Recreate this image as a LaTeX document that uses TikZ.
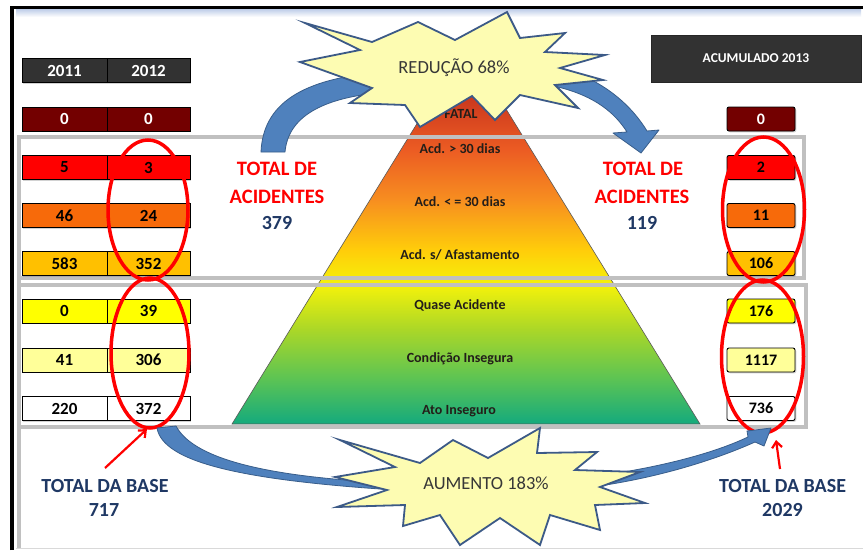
\documentclass[tikz,border=0pt]{standalone}
\usepackage{fontspec}
\setmainfont{Carlito}
\usetikzlibrary{shapes.geometric,shadows,arrows.meta}

\definecolor{cellred}{RGB}{255,0,0}
\definecolor{cellorange}{RGB}{247,106,10}
\definecolor{cellamber}{RGB}{255,192,0}
\definecolor{cellyellow}{RGB}{255,255,0}
\definecolor{celllight}{RGB}{255,255,153}
\definecolor{cellmaroon}{RGB}{115,0,0}
\definecolor{headgrey}{RGB}{50,50,50}
\definecolor{framegrey}{RGB}{192,192,192}
\definecolor{arrowblue}{RGB}{79,129,189}
\definecolor{arrowedge}{RGB}{56,93,138}
\definecolor{starfill}{RGB}{253,252,178}
\definecolor{staredge}{RGB}{60,90,135}
\definecolor{burstink}{RGB}{55,55,55}
\definecolor{navytext}{RGB}{31,56,100}
\definecolor{titlered}{RGB}{255,0,0}
\definecolor{ringred}{RGB}{255,0,0}
\definecolor{pyrtext}{RGB}{35,30,25}
\definecolor{stripblue}{RGB}{190,205,232}

\definecolor{pA}{RGB}{185,45,35}
\definecolor{pB}{RGB}{205,58,30}
\definecolor{pC}{RGB}{236,92,35}
\definecolor{pD}{RGB}{247,142,32}
\definecolor{pE}{RGB}{255,205,10}
\definecolor{pF}{RGB}{245,242,10}
\definecolor{pG}{RGB}{170,215,40}
\definecolor{pH}{RGB}{90,195,85}
\definecolor{pI}{RGB}{20,170,125}

\pgfdeclareverticalshading{pyrshade}{100bp}{color(0bp)=(pI); color(25bp)=(pI); color(30.8bp)=(pH); color(37.4bp)=(pG); color(43.3bp)=(pF); color(47.9bp)=(pE); color(54.5bp)=(pD); color(61bp)=(pC); color(67.6bp)=(pB); color(75bp)=(pA); color(100bp)=(pA)}

\tikzset{
  cellbox/.style={draw=black, line width=0.9pt, minimum height=24pt, inner sep=0pt, text=black,
    font=\fontsize{17}{17}\selectfont\bfseries,
    drop shadow={shadow xshift=1.3pt, shadow yshift=-1.3pt, opacity=0.35}},
  leftcell/.style={cellbox, minimum width=85pt},
  midcell/.style={cellbox, minimum width=83pt},
  rightcell/.style={cellbox, minimum width=68pt, rounded corners=2pt, font=\fontsize{16}{16}\selectfont\bfseries},
  headcell/.style={fill=headgrey, text=white},
  pyrlabel/.style={font=\fontsize{14}{14}\selectfont\bfseries, text=pyrtext, inner sep=0pt, text height=9pt, text depth=0pt},
  framebox/.style={draw=framegrey, line width=4pt},
  bluearrow/.style={fill=arrowblue, draw=arrowedge, line width=0.8pt, line join=round},
  burst/.style={fill=starfill, draw=staredge, line width=1.8pt, line join=miter, miter limit=12},
  bursttext/.style={font=\fontsize{18.5}{18.5}\selectfont, text=burstink, inner sep=0pt, text height=12pt, text depth=0pt},
  redtitle/.style={font=\fontsize{20.5}{20.5}\selectfont\bfseries, text=titlered, inner sep=0pt, text height=13pt, text depth=0pt},
  navytitle/.style={font=\fontsize{20}{20}\selectfont\bfseries, text=navytext, inner sep=0pt, text height=13pt, text depth=0pt},
  redring/.style={ellipse, draw=ringred, line width=3.5pt, inner sep=0pt},
  redpointer/.style={draw=ringred, line width=2.2pt, -{Straight Barb[length=6pt,width=10pt]}}
}

\begin{document}
\begin{tikzpicture}[x=1pt,y=-1pt]
\useasboundingbox (0,0) rectangle (863,550);
\fill[white] (0,0) rectangle (863,550);

% top strip and outer frame
\shade[top color=stripblue, bottom color=white] (16,9) rectangle (861,17);
\draw[black, line width=3.5pt, line join=miter] (12,550) -- (12,7.5) -- (863,7.5);
\draw[black!15, line width=1pt] (16,548) -- (863,548);

% pyramid
\shadedraw[shading=pyrshade, draw=black!65, line width=0.6pt] (232,424) -- (466,44) -- (700,424) -- cycle;
\node[pyrlabel] (lvl0) at (461,114) {FATAL};
\node[pyrlabel] (lvl1) at (460,148.5) {Acd. > 30 dias};
\node[pyrlabel] (lvl2) at (460,202) {Acd. < = 30 dias};
\node[pyrlabel] (lvl3) at (460,255) {Acd. s/ Afastamento};
\node[pyrlabel] (lvl4) at (460,305) {Quase Acidente};
\node[pyrlabel] (lvl5) at (460,358) {Condição Insegura};
\node[pyrlabel] (lvl6) at (459,410) {Ato Inseguro};

% grey group frames
\draw[framegrey, line width=3.5pt] (19,135) -- (19,548);
\draw[framebox] (19,137) -- (804,137) -- (804,278) -- (19,278);
\draw[framebox] (19,285) -- (806,285) -- (806,427) -- (19,427);

% left table
\node[leftcell, headcell] (y11) at (64.5,70.5) {2011};
\node[midcell, headcell] (y12) at (148.5,70.5) {2012};
\node[leftcell, fill=cellmaroon, text=white] (a11) at (64.5,119) {0};
\node[midcell, fill=cellmaroon, text=white] (a12) at (148.5,119) {0};
\node[leftcell, fill=cellred] (b11) at (64.5,167.5) {5};
\node[midcell, fill=cellred] (b12) at (148.5,167.5) {3};
\node[leftcell, fill=cellorange] (c11) at (64.5,215.5) {46};
\node[midcell, fill=cellorange] (c12) at (148.5,215.5) {24};
\node[leftcell, fill=cellamber] (d11) at (64.5,263.5) {583};
\node[midcell, fill=cellamber] (d12) at (148.5,263.5) {352};
\node[leftcell, fill=cellyellow] (e11) at (64.5,311) {0};
\node[midcell, fill=cellyellow] (e12) at (148.5,311) {39};
\node[leftcell, fill=celllight] (f11) at (64.5,360) {41};
\node[midcell, fill=celllight] (f12) at (148.5,360) {306};
\node[leftcell, fill=white] (g11) at (64.5,408.5) {220};
\node[midcell, fill=white] (g12) at (148.5,408.5) {372};

% right table
\node[draw=black!85, fill=headgrey, minimum width=210pt, minimum height=47pt, inner sep=0pt,
      text=white, font=\fontsize{13.5}{13.5}\selectfont\bfseries] (acc) at (756,58.5) {ACUMULADO 2013};
\node[rightcell, fill=cellmaroon, text=white] (a13) at (761,119) {0};
\node[rightcell, fill=cellred] (b13) at (761,167.5) {2};
\node[rightcell, fill=cellorange] (c13) at (761,215.5) {11};
\node[rightcell, fill=cellamber] (d13) at (761,263.5) {106};
\node[rightcell, fill=cellyellow] (e13) at (761,311) {176};
\node[rightcell, fill=celllight] (f13) at (761,360) {1117};
\node[rightcell, fill=white] (g13) at (761,408.5) {736};

% red rings
\node[redring, minimum width=80pt, minimum height=140pt] (ringLA) at (148,210) {};
\node[redring, minimum width=78pt, minimum height=150pt] (ringLB) at (150,353) {};
\node[redring, minimum width=82pt, minimum height=145pt] (ringRA) at (763.5,209.5) {};
\node[redring, minimum width=82pt, minimum height=153pt] (ringRB) at (762.5,356.5) {};

% blue curved arrows
\path[bluearrow] (261,152) .. controls (263,105) and (300,78) .. (385,72) -- (388,92)
  .. controls (320,97) and (288,118) .. (285,152) -- cycle;
\path[bluearrow] (530,62) .. controls (585,68) and (625,95) .. (647,131) -- (659,130) -- (641,153)
  -- (613,133) -- (627,132) .. controls (610,105) and (580,88) .. (530,82) -- cycle;
\path[bluearrow] (157,428) .. controls (163,462) and (240,480) .. (395,490) -- (395,483)
  .. controls (280,478) and (195,462) .. (176,426) -- cycle;
\path[bluearrow] (575,479) .. controls (650,470) and (710,455) .. (748,437) -- (747,431) -- (771,428)
  -- (764,446) -- (755,442) .. controls (715,460) and (650,481) .. (575,489) -- cycle;

% starbursts
\path[burst] (305,23) -- (372,42) -- (418,22) -- (455,40) -- (507,12) -- (520,38) -- (565,33)
  -- (545,52) -- (605,55) -- (560,68) -- (603,80) -- (555,85) -- (578,108) -- (520,95)
  -- (495,120) -- (472,96) -- (420,127) -- (405,105) -- (350,103) -- (372,88) -- (300,62)
  -- (360,50) -- cycle;
\node[bursttext] (redu) at (454,67.5) {REDUÇÃO 68\%};

\path[burst] (340,440) -- (420,463) -- (453,440) -- (488,458) -- (540,428) -- (537,453)
  -- (597,452) -- (575,470) -- (640,472) -- (600,487) -- (645,503) -- (595,505) -- (600,530)
  -- (550,515) -- (540,545) -- (500,518) -- (460,545) -- (440,515) -- (403,526) -- (405,505)
  -- (337,507) -- (387,490) -- (335,477) -- (395,467) -- cycle;
\node[bursttext] (aum) at (486,483.5) {AUMENTO 183\%};

% titles
\node[redtitle] (tdL1) at (277,169) {TOTAL DE};
\node[redtitle] (tdL2) at (277,197) {ACIDENTES};
\node[navytitle] (tdL3) at (277,223) {379};
\node[redtitle] (tdR1) at (643,169) {TOTAL DE};
\node[redtitle] (tdR2) at (642,197) {ACIDENTES};
\node[navytitle] (tdR3) at (642,223) {119};
\node[navytitle] (tbL1) at (105,486) {TOTAL DA BASE};
\node[navytitle] (tbL2) at (104,510) {717};
\node[navytitle] (tbR1) at (782.5,486) {TOTAL DA BASE};
\node[navytitle] (tbR2) at (782.5,510) {2029};

% red pointers
\coordinate (ptrLs) at (105,468);
\coordinate (ptrLe) at (147,429);
\coordinate (ptrRs) at (780,469);
\coordinate (ptrRe) at (776,440);
\draw[redpointer] (ptrLs) -- (ptrLe);
\draw[redpointer] (ptrRs) -- (ptrRe);
\end{tikzpicture}
\end{document}
